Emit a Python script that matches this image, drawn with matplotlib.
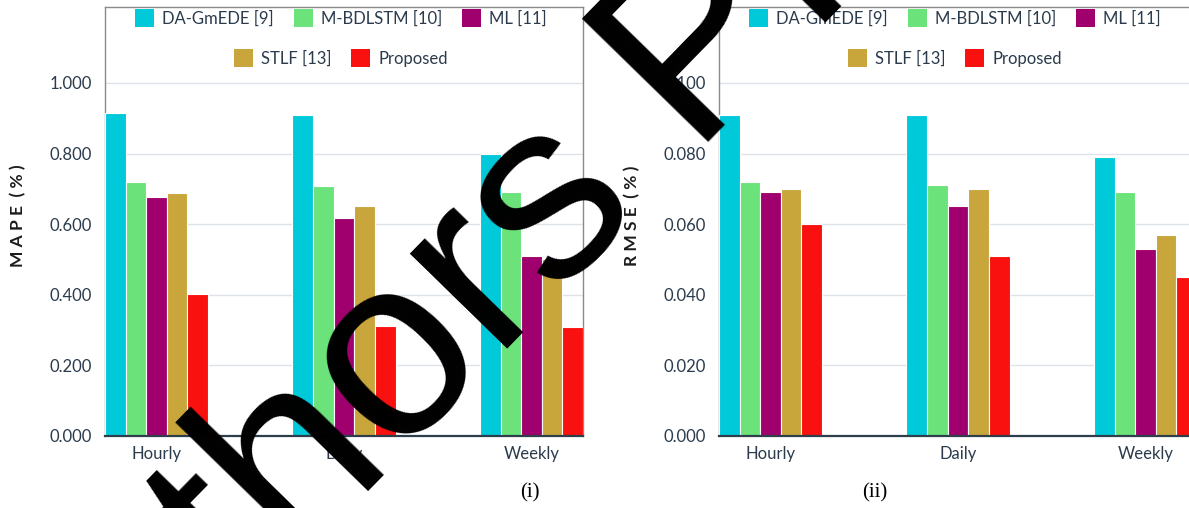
"""
Grouped bar charts of forecasting error (MAPE and RMSE) per horizon.
"""

from __future__ import annotations

import matplotlib

matplotlib.use("Agg")
import matplotlib.pyplot as plt  # noqa: E402
from matplotlib.patches import Patch  # noqa: E402

horizons = ["Hourly", "Daily", "Weekly"]
methods = ["DA-GmEDE [9]", "M-BDLSTM [10]", "ML [11]", "STLF [13]", "Proposed"]
colors = ["#00c9da", "#6be37a", "#a0006e", "#c9a63b", "#f8110f"]

# MAPE (%) per method, one value per horizon
mape_dagmede = [0.915, 0.910, 0.800]
mape_mbdlstm = [0.720, 0.708, 0.690]
mape_ml = [0.676, 0.618, 0.511]
mape_stlf = [0.689, 0.650, 0.500]
mape_proposed = [0.402, 0.312, 0.310]

# RMSE (%) per method, one value per horizon
rmse_dagmede = [0.091, 0.091, 0.079]
rmse_mbdlstm = [0.072, 0.071, 0.069]
rmse_ml = [0.069, 0.065, 0.053]
rmse_stlf = [0.070, 0.070, 0.057]
rmse_proposed = [0.060, 0.051, 0.045]

mape_ticks = [0.0, 0.2, 0.4, 0.6, 0.8, 1.0]
rmse_ticks = [0.0, 0.02, 0.04, 0.06, 0.08, 0.10]

FONT = ["Lato", "DejaVu Sans"]
TEXT_COLOR = "#2b3b4c"
BAR_W = 0.11


def draw_panel(ax, series, ticks, top):
    """Draw one grouped bar panel with its two-row legend."""
    n = len(series)
    for i, (vals, color) in enumerate(zip(series, colors)):
        xs = [g + (i - (n - 1) / 2) * BAR_W for g in range(len(horizons))]
        ax.bar(xs, vals, width=BAR_W, color=color, edgecolor="white",
               linewidth=0.8, zorder=3)

    ax.set_xlim(-n / 2 * BAR_W, len(horizons) - 1 + n / 2 * BAR_W)
    ax.set_ylim(0, top)
    ax.set_xticks(range(len(horizons)))
    ax.set_xticklabels(horizons)
    ax.set_yticks(ticks)
    ax.set_yticklabels([f"{t:.3f}" for t in ticks])
    ax.tick_params(axis="both", length=0, labelsize=12, colors=TEXT_COLOR)
    ax.tick_params(axis="y", pad=9.5)
    ax.tick_params(axis="x", pad=7)
    for lab in ax.get_xticklabels() + ax.get_yticklabels():
        lab.set_family(FONT)

    ax.grid(axis="y", color="#dde3e8", linewidth=1, zorder=0)
    for side in ("top", "left", "right"):
        ax.spines[side].set_color("#8a8a8a")
        ax.spines[side].set_linewidth(1)
    ax.spines["bottom"].set_color("#2e3e4b")
    ax.spines["bottom"].set_linewidth(1.6)
    ax.spines["bottom"].set_zorder(4)

    handles = [Patch(facecolor=c, edgecolor="none") for c in colors]
    legend_kw = dict(frameon=False, handlelength=1.14, handleheight=1.26,
                     handletextpad=0.48, columnspacing=1.2, borderpad=0,
                     borderaxespad=0, prop={"family": FONT, "size": 12})
    first = ax.legend(handles[:3], methods[:3], ncol=3, loc="center",
                      bbox_to_anchor=(0.493, 0.974), **legend_kw)
    for t in first.get_texts():
        t.set_color(TEXT_COLOR)
    ax.add_artist(first)
    second = ax.legend(handles[3:], methods[3:], ncol=2, loc="center",
                       bbox_to_anchor=(0.493, 0.881), **legend_kw)
    for t in second.get_texts():
        t.set_color(TEXT_COLOR)


W, H = 1189, 508
fig = plt.figure(figsize=(W / 100, H / 100), dpi=100)

ax_mape = fig.add_axes([105 / W, 1 - 436 / H, 478 / W, 429 / H])
ax_rmse = fig.add_axes([719 / W, 1 - 436 / H, 478 / W, 429 / H])

draw_panel(ax_mape,
           [mape_dagmede, mape_mbdlstm, mape_ml, mape_stlf, mape_proposed],
           mape_ticks, 1.215)
draw_panel(ax_rmse,
           [rmse_dagmede, rmse_mbdlstm, rmse_ml, rmse_stlf, rmse_proposed],
           rmse_ticks, 0.1215)

fig.text(18 / W, 1 - 216 / H, "M A P E  ( % )", rotation=90, ha="center",
         va="center", fontsize=12.5, fontweight="bold", color="#1c1c1c",
         family=FONT)
fig.text(632 / W, 1 - 216 / H, "R M S E  ( % )", rotation=90, ha="center",
         va="center", fontsize=12.5, fontweight="bold", color="#1c1c1c",
         family=FONT)

fig.text(530 / W, 1 - 493 / H, "(i)", ha="center", va="center", fontsize=15,
         family="Liberation Serif", color="black")
fig.text(875 / W, 1 - 493 / H, "(ii)", ha="center", va="center", fontsize=15,
         family="Liberation Serif", color="black")

# diagonal watermark across both panels
fig.text(675 / W, 1 - 177 / H, "Authors Preprint", rotation=45.7,
         rotation_mode="anchor", ha="center", va="baseline", fontsize=184.5,
         family="Liberation Sans", color="black", zorder=10)

fig.savefig("out.png", dpi=100)
plt.close(fig)
